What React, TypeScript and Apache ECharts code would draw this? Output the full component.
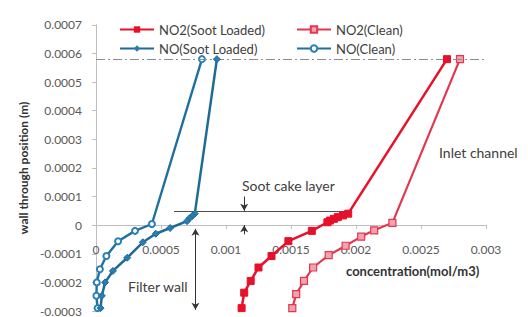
import React, { useEffect, useRef } from "react";
import * as echarts from "echarts";

// [concentration (mol/m3), wall through position (m)]
const no2Soot: [number, number][] = [
  [0.0027, 0.00058], [0.00194, 0.00004], [0.0019, 0.000034], [0.00186, 0.000028],
  [0.00183, 0.000022], [0.0018, 0.000016], [0.00178, 0.00001], [0.00166, -0.00002],
  [0.00148, -0.000056], [0.00135, -0.000108], [0.00125, -0.000148], [0.00119, -0.000195],
  [0.00114, -0.000236], [0.00112, -0.00029],
];
const no2Clean: [number, number][] = [
  [0.0028, 0.00058], [0.00228, 0.000008], [0.00214, -0.000018], [0.00204, -0.00004],
  [0.00192, -0.000072], [0.00179, -0.000105], [0.00167, -0.000148], [0.0016, -0.000195],
  [0.00154, -0.000241], [0.00151, -0.00029],
];
const noSoot: [number, number][] = [
  [0.00093, 0.00058], [0.00076, 0.00004], [0.00074, 0.000032], [0.00072, 0.000024],
  [0.0007, 0.000014], [0.00057, -0.00001], [0.00046, -0.00003], [0.00036, -0.00006],
  [0.00024, -0.000114], [0.00013, -0.00016], [0.00007, -0.0002], [0.000045, -0.000247],
  [0.000035, -0.00029],
];
const noClean: [number, number][] = [
  [0.000815, 0.00058], [0.00043, 0.000004], [0.0003, -0.00002], [0.00017, -0.000056],
  [0.00008, -0.000108], [0.00003, -0.000154], [0.000006, -0.0002], [0.000003, -0.000247],
  [0.000012, -0.00029],
];

const seriesNames = ["NO2(Soot Loaded)", "NO2(Clean)", "NO(Soot Loaded)", "NO(Clean)"];
const xTicks = { min: 0, max: 0.003, interval: 0.0005 };
const yTicks = { min: -0.0003, max: 0.0007, interval: 0.0001 };
const inletLevel = 0.00058;
const sootCakeTop = 0.000048;

const FONT = "Lato";
const GRID_TOP = 24.8;
const GRID_BOTTOM = 5.2;
const CHART_H = 317;

export default function App() {
  const ref = useRef<HTMLDivElement>(null);
  useEffect(() => {
    if (!ref.current) return;
    const chart = echarts.init(ref.current, undefined, { renderer: "svg" });
    const fmt = (v: number) => String(parseFloat(v.toFixed(6)));
    const gray = "#595959";
    const annot = "#505050";
    // place the x axis (with its labels) at y = 0, as in the reference
    const plotH = CHART_H - GRID_TOP - GRID_BOTTOM;
    const zeroOffset = -plotH * (0 - yTicks.min) / (yTicks.max - yTicks.min);
    chart.setOption({
      animation: false,
      backgroundColor: "#ffffff",
      textStyle: { fontFamily: FONT },
      grid: { left: 96, right: 42, top: GRID_TOP, bottom: GRID_BOTTOM, containLabel: false },
      legend: [
        {
          data: [seriesNames[0], seriesNames[2]],
          orient: "vertical", left: 114, top: 18, itemWidth: 34, itemHeight: 8, itemGap: 6,
          textStyle: { fontFamily: FONT, fontSize: 13, color: "#404040" },
        },
        {
          data: [seriesNames[1], seriesNames[3]],
          orient: "vertical", left: 291, top: 18, itemWidth: 34, itemHeight: 8, itemGap: 6,
          textStyle: { fontFamily: FONT, fontSize: 13, color: "#404040" },
        },
      ],
      xAxis: {
        type: "value", min: xTicks.min, max: xTicks.max, interval: xTicks.interval,
        position: "bottom", offset: zeroOffset,
        axisLine: { onZero: false, lineStyle: { color: "#bfbfbf", width: 1 } },
        axisTick: { show: true, length: 4, lineStyle: { color: "#bfbfbf" } },
        axisLabel: { margin: 19, fontSize: 12, color: gray, fontFamily: FONT, formatter: fmt },
        splitLine: { show: false },
      },
      yAxis: {
        type: "value", min: yTicks.min, max: yTicks.max, interval: yTicks.interval,
        name: "wall through position (m)", nameLocation: "middle", nameGap: 57,
        nameTextStyle: { fontFamily: FONT, fontSize: 12, fontWeight: "bold", color: "#333" },
        axisLine: { show: true, onZero: false, lineStyle: { color: "#bfbfbf", width: 1 } },
        axisTick: { show: true, length: 4, lineStyle: { color: "#bfbfbf" } },
        axisLabel: { margin: 14, fontSize: 12, color: gray, fontFamily: FONT, formatter: fmt },
        splitLine: { show: false },
      },
      series: [
        {
          name: seriesNames[0], type: "line", data: no2Soot,
          symbol: "rect", symbolSize: 7, showAllSymbol: true,
          lineStyle: { color: "#e8102a", width: 2.5 },
          itemStyle: { color: "#e8102a", borderColor: "#e8102a" },
          z: 5,
          markLine: {
            silent: true, animation: false, symbol: ["none", "none"],
            label: { show: false },
            data: [
              [
                { coord: [0, inletLevel], lineStyle: { color: "#8c8c8c", width: 1, type: [9, 3, 2, 3] } },
                { coord: [xTicks.max, inletLevel] },
              ],
              [
                { coord: [0.0006, sootCakeTop], lineStyle: { color: annot, width: 1, type: "solid" } },
                { coord: [0.00195, sootCakeTop] },
              ],
              [
                { coord: [0, yTicks.min], lineStyle: { color: annot, width: 1, type: "solid" } },
                { coord: [xTicks.max + 0.00004, yTicks.min] },
              ],
              [
                { coord: [0.00114, 0.0001], symbol: "none", lineStyle: { color: "#333", width: 1, type: "solid" } },
                { coord: [0.00114, 0.00005], symbol: "arrow", symbolSize: [6, 7] },
              ],
              [
                { coord: [0.00114, -0.000032], symbol: "none", lineStyle: { color: "#333", width: 1, type: "solid" } },
                { coord: [0.00114, 0.0], symbol: "arrow", symbolSize: [6, 7] },
              ],
              [
                { coord: [0.000765, -0.000013], symbol: "arrow", symbolSize: [6, 7], lineStyle: { color: "#333", width: 1, type: "solid" } },
                { coord: [0.000765, -0.000296], symbol: "arrow", symbolSize: [6, 7] },
              ],
            ],
          },
        },
        {
          name: seriesNames[1], type: "line", data: no2Clean,
          symbol: "rect", symbolSize: 7, showAllSymbol: true,
          lineStyle: { color: "#e2384f", width: 2.2 },
          itemStyle: { color: "#f2a3ad", borderColor: "#e2384f", borderWidth: 1.2 },
          z: 4,
        },
        {
          name: seriesNames[2], type: "line", data: noSoot,
          symbol: "diamond", symbolSize: 7, showAllSymbol: true,
          lineStyle: { color: "#1f6b98", width: 2.5 },
          itemStyle: { color: "#2a7db3", borderColor: "#1f6b98" },
          z: 5,
        },
        {
          name: seriesNames[3], type: "line", data: noClean,
          symbol: "emptyCircle", symbolSize: 6, showAllSymbol: true,
          lineStyle: { color: "#1f70a0", width: 2.4 },
          itemStyle: { color: "#2a80b5", borderColor: "#2a80b5", borderWidth: 1.2 },
          z: 4,
        },
      ],
      graphic: [
        { type: "text", left: 346, top: 264, style: { text: "concentration(mol/m3)", fontFamily: FONT, fontSize: 13, fontWeight: "bold", fill: "#333" } },
        { type: "text", left: 242, top: 178, style: { text: "Soot cake layer", fontFamily: FONT, fontSize: 14, fill: "#404040" } },
        { type: "text", left: 128, top: 279, style: { text: "Filter wall", fontFamily: FONT, fontSize: 14, fill: "#404040" } },
        { type: "text", left: 439, top: 145, style: { text: "Inlet channel", fontFamily: FONT, fontSize: 14, fill: "#404040" } },
      ],
    });
    return () => chart.dispose();
  }, []);
  return (
    <div
      ref={ref}
      style={{ position: "fixed", left: 0, top: 0, width: 528, height: 317, background: "#fff" }}
    />
  );
}
